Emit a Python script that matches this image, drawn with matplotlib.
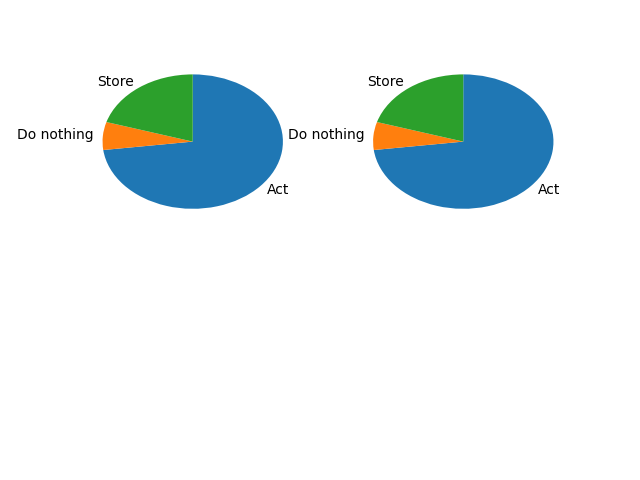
import matplotlib
matplotlib.use('Agg')
import matplotlib.pyplot as plt

labels = ['Act', 'Do nothing', 'Store']
values_left = [73.0, 6.7, 20.3]
values_right = [73.0, 6.7, 20.3]

fig, axes = plt.subplots(2, 2, figsize=(6.4, 4.8), dpi=100)

# 上排两个饼图，顺时针，从顶部开始；不保持等比例 -> 椭圆
for ax, vals in zip(axes[0], [values_left, values_right]):
    ax.pie(vals, labels=labels, startangle=90, counterclock=False)
    ax.set_aspect('auto')

# 下排空白
axes[1, 0].axis('off')
axes[1, 1].axis('off')

plt.savefig('out.png', dpi=100)
